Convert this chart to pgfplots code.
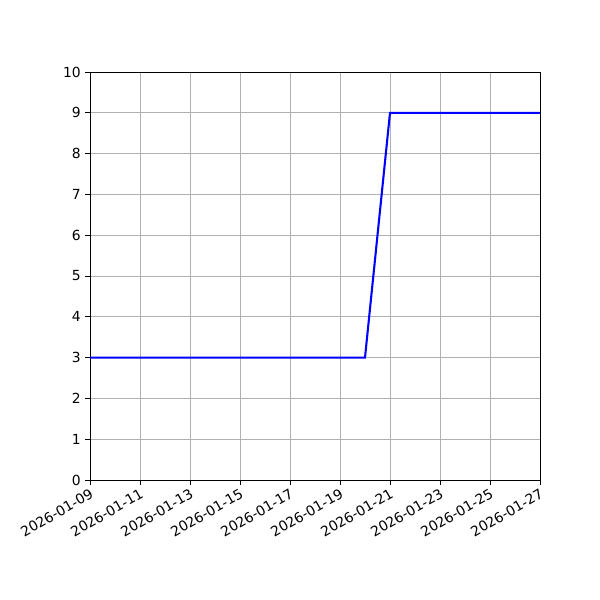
\documentclass[border=0pt]{standalone}
\usepackage{pgfplots}
\pgfplotsset{compat=1.18}
\usepackage{fontspec}
\setmainfont{DejaVu Sans}
\definecolor{gridgray}{HTML}{B0B0B0}
\begin{document}
\begin{tikzpicture}
\path[use as bounding box] (-64.8pt,-86.4pt) rectangle (367.2pt,345.6pt);
\begin{axis}[
    at={(0,0)}, anchor=south west,
    scale only axis,
    width=324pt, height=293.76pt,
    xmin=0, xmax=18,
    ymin=0, ymax=10,
    xtick={0,2,4,6,8,10,12,14,16,18},
    xticklabels={2026-01-09,2026-01-11,2026-01-13,2026-01-15,2026-01-17,2026-01-19,2026-01-21,2026-01-23,2026-01-25,2026-01-27},
    ytick={0,1,2,3,4,5,6,7,8,9,10},
    /pgf/number format/assume math mode=true,
    tick label style={font=\fontsize{10}{12}\selectfont},
    xticklabel style={rotate=30, anchor=north east, inner sep=1.5pt},
    yticklabel style={inner sep=3pt},
    tick pos=left,
    tick align=outside,
    major tick length=3.5pt,
    tick style={black, line width=0.7pt},
    axis line style={line width=0.7pt},
    xmajorgrids, ymajorgrids,
    grid style={gridgray, line width=0.6pt},
]
\addplot[blue, line width=1.5pt, mark=none] coordinates {
    (0,3) (11,3) (12,9) (18,9)
};
\end{axis}
\end{tikzpicture}
\end{document}
